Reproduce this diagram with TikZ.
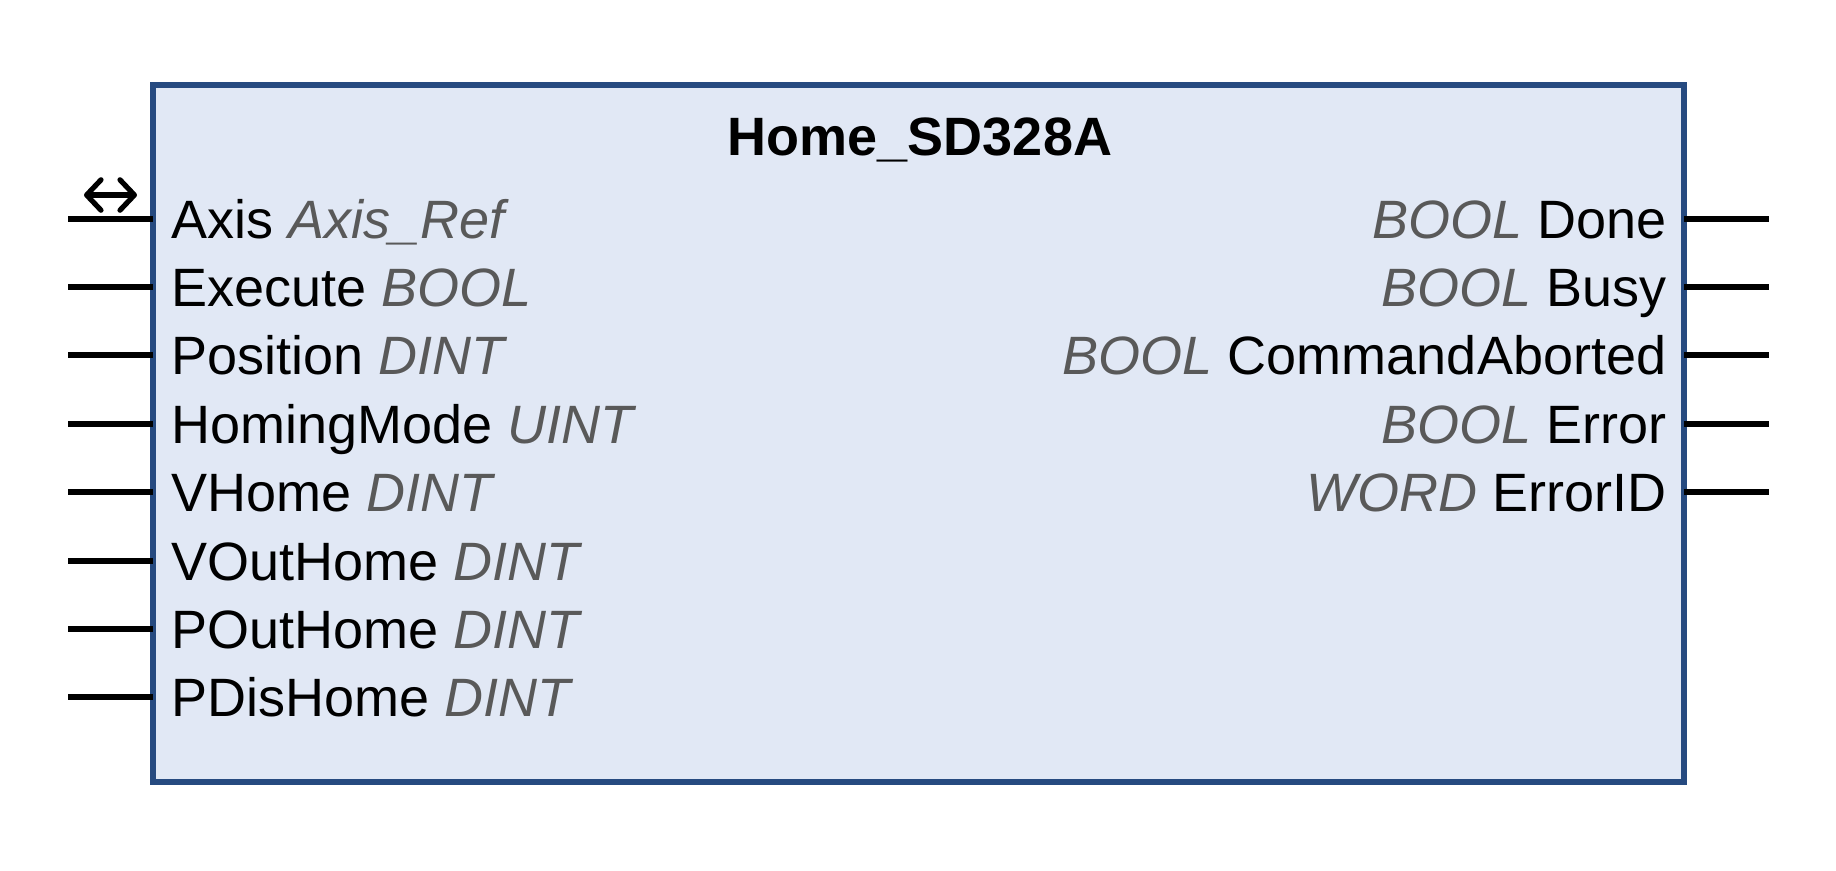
\documentclass[tikz,border=0pt]{standalone}
\usepackage{fontspec}
\setmainfont{Liberation Sans}
\usepackage{tikz}
\usetikzlibrary{arrows.meta}

\definecolor{fbBorder}{HTML}{264A80}
\definecolor{fbFill}{HTML}{E1E8F5}
\definecolor{typeGray}{HTML}{595959}
\newcommand{\vtype}[1]{\textcolor{typeGray}{\textit{#1}}}

\tikzset{
  fbbox/.style={draw=fbBorder,fill=fbFill,line width=1.4pt},
  pin/.style={draw=black,line width=1.3pt},
  inlabel/.style={anchor=base west,inner sep=0pt,font=\fontsize{13.5}{16}\selectfont},
  outlabel/.style={anchor=base east,inner sep=0pt,font=\fontsize{13.5}{16}\selectfont},
  title/.style={anchor=base,inner sep=0pt,font=\fontsize{13.5}{16}\selectfont\bfseries},
  barb/.tip={Straight Barb[length=3.6pt,width=7.6pt,round]}
}

\begin{document}
\begin{tikzpicture}[x=0.25pt,y=0.25pt,yscale=-1,xscale=1]
\useasboundingbox (0,0) rectangle (1836,870);

%Function block
\draw[fbbox] (153,85) rectangle (1684,782);
% Title
\node[title] (fbname) at (920,155) {Home\_SD328A};

%Pin ends on the left
\coordinate (i1a) at (68,219);    \coordinate (i1b) at (153,219);
\coordinate (i2a) at (68,287);    \coordinate (i2b) at (153,287);
\coordinate (i3a) at (68,355);    \coordinate (i3b) at (153,355);
\coordinate (i4a) at (68,424);    \coordinate (i4b) at (153,424);
\coordinate (i5a) at (68,492);    \coordinate (i5b) at (153,492);
\coordinate (i6a) at (68,561);    \coordinate (i6b) at (153,561);
\coordinate (i7a) at (68,629);    \coordinate (i7b) at (153,629);
\coordinate (i8a) at (68,697);    \coordinate (i8b) at (153,697);
%Pin ends on the right
\coordinate (o1a) at (1684,219);  \coordinate (o1b) at (1769,219);
\coordinate (o2a) at (1684,287);  \coordinate (o2b) at (1769,287);
\coordinate (o3a) at (1684,355);  \coordinate (o3b) at (1769,355);
\coordinate (o4a) at (1684,424);  \coordinate (o4b) at (1769,424);
\coordinate (o5a) at (1684,492);  \coordinate (o5b) at (1769,492);

%Input pins
\draw[pin] (i1a) -- (i1b);
\draw[pin] (i2a) -- (i2b);
\draw[pin] (i3a) -- (i3b);
\draw[pin] (i4a) -- (i4b);
\draw[pin] (i5a) -- (i5b);
\draw[pin] (i6a) -- (i6b);
\draw[pin] (i7a) -- (i7b);
\draw[pin] (i8a) -- (i8b);
%Output pins
\draw[pin] (o1a) -- (o1b);
\draw[pin] (o2a) -- (o2b);
\draw[pin] (o3a) -- (o3b);
\draw[pin] (o4a) -- (o4b);
\draw[pin] (o5a) -- (o5b);

%In-out marker
\coordinate (ioL) at (84,195);
\coordinate (ioR) at (137,195);
\draw[line width=1.3pt,line cap=round,barb-barb] (ioL) -- (ioR);

% Text Node
\node[inlabel] (in1) at (171,238) {Axis \vtype{Axis\_Ref}};
% Text Node
\node[inlabel] (in2) at (171,306) {Execute \vtype{BOOL}};
% Text Node
\node[inlabel] (in3) at (171,374) {Position \vtype{DINT}};
% Text Node
\node[inlabel] (in4) at (171,443) {HomingMode \vtype{UINT}};
% Text Node
\node[inlabel] (in5) at (171,511) {VHome \vtype{DINT}};
% Text Node
\node[inlabel] (in6) at (171,580) {VOutHome \vtype{DINT}};
% Text Node
\node[inlabel] (in7) at (171,648) {POutHome \vtype{DINT}};
% Text Node
\node[inlabel] (in8) at (171,716) {PDisHome \vtype{DINT}};

% Text Node
\node[outlabel] (out1) at (1667,238) {\vtype{BOOL} Done};
% Text Node
\node[outlabel] (out2) at (1667,306) {\vtype{BOOL} Busy};
% Text Node
\node[outlabel] (out3) at (1667,374) {\vtype{BOOL} CommandAborted};
% Text Node
\node[outlabel] (out4) at (1667,443) {\vtype{BOOL} Error};
% Text Node
\node[outlabel] (out5) at (1667,511) {\vtype{WORD} ErrorID};

\end{tikzpicture}
\end{document}
